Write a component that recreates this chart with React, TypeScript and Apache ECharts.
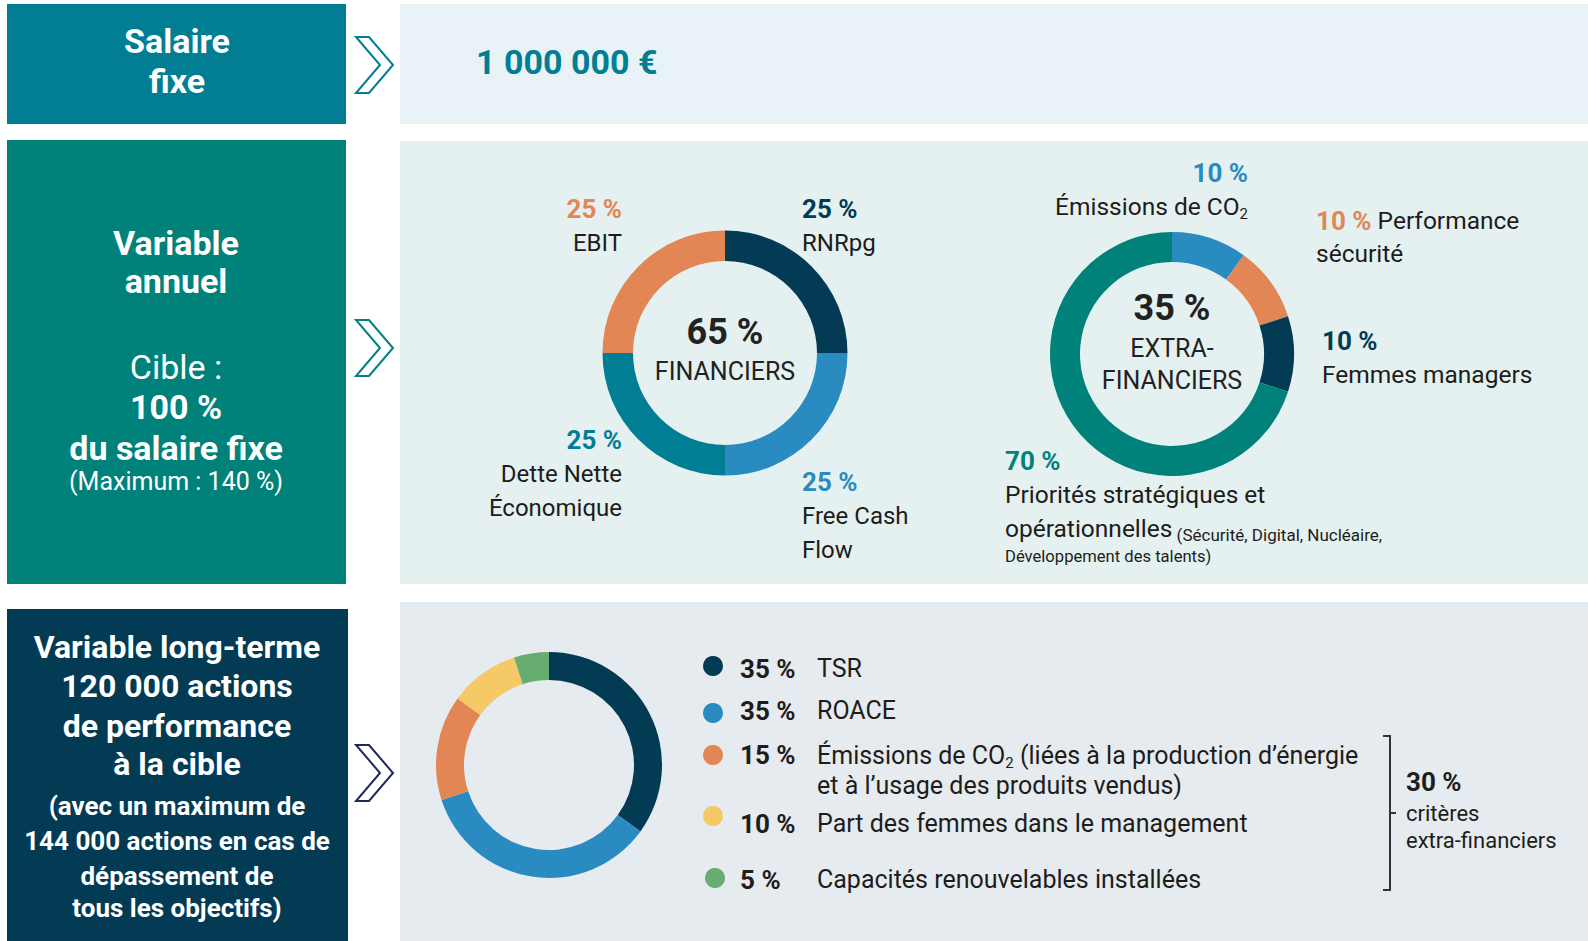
import React, { useEffect, useRef } from 'react';
import * as echarts from 'echarts';

const FONT = 'Roboto, "Liberation Sans", sans-serif';

// ---------- data ----------
const fixedSalary = '1 000 000 €';
const annualGroupNames = ['FINANCIERS', 'EXTRA-FINANCIERS'];
const annualGroupShares = [65, 35];
const annualTarget = 100;
const annualMaximum = 140;

const financialNames = ['RNRpg', 'Free Cash Flow', 'Dette Nette Économique', 'EBIT'];
const financialValues = [25, 25, 25, 25];

const extraNames = ['Émissions de CO2', 'Performance sécurité', 'Femmes managers', 'Priorités stratégiques et opérationnelles'];
const extraValues = [10, 10, 10, 70];

const longTermNames = [
  'TSR',
  'ROACE',
  'Émissions de CO2 (liées à la production d’énergie et à l’usage des produits vendus)',
  'Part des femmes dans le management',
  'Capacités renouvelables installées',
];
const longTermValues = [35, 35, 15, 10, 5];
const longTermExtraShare = 30;
const longTermTargetShares = '120 000';
const longTermMaxShares = '144 000';

// ---------- styles ----------
const COL = {
  navy: '#033B55',
  blue: '#298BBF',
  petrol: '#017E93',
  orange: '#E38656',
  teal: '#00827B',
  yellow: '#F4C966',
  green: '#66AD6F',
  text: '#1D1D1B',
  indigo: '#1F2A5C',
};
const financialColors = [COL.navy, COL.blue, COL.petrol, COL.orange];
const extraColors = [COL.blue, COL.orange, COL.navy, COL.teal];
const longTermColors = [COL.navy, COL.blue, COL.orange, COL.yellow, COL.green];

const pct = (v: number) => `${v}\u00a0%`;

type Opt = { weight?: string; color?: string; align?: string };
function T(text: string, x: number, baseline: number, size: number, o: Opt = {}) {
  const align = o.align || 'left';
  return {
    type: 'text',
    x,
    y: baseline - 0.342 * size,
    z: 10,
    silent: true,
    style: {
      text,
      fill: o.color || COL.text,
      fontFamily: FONT,
      fontSize: size,
      fontWeight: o.weight || 'normal',
      align,
      textAlign: align,
      verticalAlign: 'middle',
      textVerticalAlign: 'middle',
    },
  };
}
function R(text: string, x: number, centerY: number, rich: any, align = 'left') {
  return {
    type: 'text',
    x,
    y: centerY,
    z: 10,
    silent: true,
    style: {
      text,
      rich,
      fontFamily: FONT,
      fontSize: 24,
      align,
      textAlign: align,
      verticalAlign: 'middle',
      textVerticalAlign: 'middle',
    },
  };
}
const tok = (size: number, weight: string, color: string, lh = 30, extra: any = {}) => ({
  fontFamily: FONT,
  fontSize: size,
  fontWeight: weight,
  color,
  fill: color,
  lineHeight: lh,
  ...extra,
});
const subTok = (color: string) => tok(15, 'normal', color, 16, { verticalAlign: 'bottom' });
function fixCO(line: string, key: string) {
  // "Émissions de CO2 ..." -> "{n|Émissions de CO}{s|2}{n| ...}"
  const i = line.indexOf('CO2');
  if (i < 0) return `{${key}|${line}}`;
  const a = line.slice(0, i + 2);
  const b = line.slice(i + 3);
  return `{${key}|${a}}{s|2}` + (b ? `{${key}|${b}}` : '');
}

function chevron(x: number, yc: number, color: string) {
  return {
    type: 'polygon',
    silent: true,
    shape: {
      points: [
        [x, yc - 28],
        [x + 13, yc - 28],
        [x + 37, yc],
        [x + 13, yc + 28],
        [x, yc + 28],
        [x + 24, yc],
      ],
    },
    style: { fill: 'none', stroke: color, lineWidth: 2 },
  };
}

function buildOption() {
  const g: any[] = [];
  // panels
  g.push({ type: 'rect', silent: true, shape: { x: 7, y: 4, width: 339, height: 120 }, style: { fill: COL.petrol } });
  g.push({ type: 'rect', silent: true, shape: { x: 400, y: 4, width: 1188, height: 120 }, style: { fill: '#E9F2F7' } });
  g.push({ type: 'rect', silent: true, shape: { x: 7, y: 140, width: 339, height: 444 }, style: { fill: COL.teal } });
  g.push({ type: 'rect', silent: true, shape: { x: 400, y: 141, width: 1188, height: 443 }, style: { fill: '#E5F1F0' } });
  g.push({ type: 'rect', silent: true, shape: { x: 7, y: 609, width: 341, height: 332 }, style: { fill: COL.navy } });
  g.push({ type: 'rect', silent: true, shape: { x: 400, y: 602, width: 1188, height: 339 }, style: { fill: '#E6EBEF' } });
  g.push(chevron(356, 65, COL.petrol));
  g.push(chevron(356, 348, COL.teal));
  g.push(chevron(356, 773, COL.indigo));

  const W = '#FFFFFF';
  // row 1
  g.push(T('Salaire', 177, 53, 34, { weight: 'bold', color: W, align: 'center' }));
  g.push(T('fixe', 177, 93, 34, { weight: 'bold', color: W, align: 'center' }));
  g.push(T(fixedSalary, 476, 74, 34, { weight: 'bold', color: COL.petrol }));

  // row 2 box
  g.push(T('Variable', 176, 255, 34, { weight: 'bold', color: W, align: 'center' }));
  g.push(T('annuel', 176, 293, 34, { weight: 'bold', color: W, align: 'center' }));
  g.push(T('Cible :', 176, 379, 34, { color: W, align: 'center' }));
  g.push(T(pct(annualTarget), 176, 419, 34, { weight: 'bold', color: W, align: 'center' }));
  g.push(T('du salaire fixe', 176, 460, 34, { weight: 'bold', color: W, align: 'center' }));
  g.push(T(`(Maximum : ${pct(annualMaximum)})`, 176, 490, 25, { color: W, align: 'center' }));

  // row 3 box
  const lt1 = ['Variable long-terme', `${longTermTargetShares} actions`, 'de performance', 'à la cible'];
  const lt1B = [658, 697, 737, 775];
  lt1.forEach((s, i) => g.push(T(s, 177, lt1B[i], 32, { weight: 'bold', color: W, align: 'center' })));
  const lt2 = ['(avec un maximum de', `${longTermMaxShares} actions en cas de`, 'dépassement de', 'tous les objectifs)'];
  const lt2B = [815, 850, 885, 917];
  lt2.forEach((s, i) => g.push(T(s, 177, lt2B[i], 26, { weight: 'bold', color: W, align: 'center' })));

  // donut 1 labels
  const finLayout = [
    { x: 802, y: 217.5, align: 'left', lines: ['RNRpg'] },
    { x: 802, y: 491, align: 'left', lines: ['Free Cash', 'Flow'] },
    { x: 622, y: 449, align: 'right', lines: ['Dette Nette', 'Économique'] },
    { x: 622, y: 217.5, align: 'right', lines: ['EBIT'] },
  ];
  finLayout.forEach((L, i) => {
    g.push(T(pct(financialValues[i]), L.x, L.y, 26, { weight: 'bold', color: financialColors[i], align: L.align }));
    L.lines.forEach((s, k) => g.push(T(s, L.x, L.y + 33.5 * (k + 1), 24, { align: L.align })));
  });
  g.push(T(pct(annualGroupShares[0]), 725, 344, 36, { weight: 'bold', color: '#222', align: 'center' }));
  g.push(T(annualGroupNames[0], 725, 380, 25, { color: '#222', align: 'center' }));

  // donut 2 labels
  g.push(T(pct(extraValues[0]), 1248, 182, 26, { weight: 'bold', color: extraColors[0], align: 'right' }));
  g.push(
    R(fixCO(extraNames[0], 'n'), 1248, 215 - 8.2, { n: tok(24.5, 'normal', COL.text), s: subTok(COL.text) }, 'right')
  );
  g.push(
    R(
      `{p|${pct(extraValues[1])}}{n| Performance}`,
      1316,
      229 - 8.2,
      { p: tok(26, 'bold', extraColors[1]), n: tok(24.5, 'normal', COL.text) },
      'left'
    )
  );
  g.push(T('sécurité', 1316, 262, 24.5));
  g.push(T(pct(extraValues[2]), 1322, 350, 26, { weight: 'bold', color: extraColors[2] }));
  g.push(T(extraNames[2], 1322, 383, 24.5));
  g.push(T(pct(extraValues[3]), 1005, 470, 26, { weight: 'bold', color: extraColors[3] }));
  g.push(T('Priorités stratégiques et', 1005, 503, 24.5));
  g.push(
    R(
      '{n|opérationnelles}{m| (Sécurité, Digital, Nucléaire,}',
      1005,
      537 - 8.2,
      { n: tok(24.5, 'normal', COL.text), m: tok(17, 'normal', COL.text, 24, { verticalAlign: 'bottom' }) },
      'left'
    )
  );
  g.push(T('Développement des talents)', 1005, 562, 16.6));
  g.push(T(pct(annualGroupShares[1]), 1172, 320, 36, { weight: 'bold', color: '#222', align: 'center' }));
  g.push(T('EXTRA-', 1172, 357, 25, { color: '#222', align: 'center' }));
  g.push(T('FINANCIERS', 1172, 389, 25, { color: '#222', align: 'center' }));

  // bracket
  g.push({
    type: 'polyline',
    silent: true,
    shape: { points: [[1383, 736], [1390, 736], [1390, 890], [1383, 890]] },
    style: { stroke: '#333', lineWidth: 2, fill: 'none' },
  });
  g.push({ type: 'line', silent: true, shape: { x1: 1390, y1: 813, x2: 1396, y2: 813 }, style: { stroke: '#333', lineWidth: 2 } });
  g.push(T(pct(longTermExtraShare), 1406, 791, 26, { weight: 'bold' }));
  g.push(T('critères', 1406, 821, 22));
  g.push(T('extra-financiers', 1406, 848, 22));

  // legends for long-term donut
  const ltLines = [
    ['TSR'],
    ['ROACE'],
    ['Émissions de CO2 (liées à la production d’énergie', 'et à l’usage des produits vendus)'],
    ['Part des femmes dans le management'],
    ['Capacités renouvelables installées'],
  ];
  const ltIconY = [666, 713, 755, 816, 878];
  const ltIconX = [703, 703, 703, 703, 705];
  const ltShift = [2.5, -2.5, 0, 7.5, 1.5];
  const legends = longTermNames.map((name, i) => {
    const lines = ltLines[i];
    let pt = Math.max(0, 2 * ltShift[i]);
    const pb = Math.max(0, -2 * ltShift[i]);
    if (lines.length > 1) pt = 30 * (lines.length - 1);
    const H = 30 * lines.length + pt + pb;
    const top = ltIconY[i] - Math.max(10, H / 2);
    const gap = 12 - (ltIconX[i] - 703);
    const text = lines
      .map((ln, k) => (k === 0 ? `{g| }{p|${pct(longTermValues[i])}}` : `{g| }{p| }`) + fixCO(ln, 'l'))
      .join('\n');
    return {
      show: true,
      data: [name],
      left: ltIconX[i],
      top,
      padding: 0,
      icon: 'circle',
      itemWidth: 20,
      itemHeight: 20,
      selectedMode: false,
      formatter: () => text,
      textStyle: {
        fontFamily: FONT,
        fontSize: 25,
        color: COL.text,
        lineHeight: 30,
        padding: [pt, 0, pb, 0],
        rich: {
          g: tok(25, 'normal', COL.text, 30, { width: gap }),
          p: tok(26, 'bold', COL.text, 30, { width: 77 }),
          l: tok(25, 'normal', COL.text, 30),
          s: subTok(COL.text),
        },
      },
    };
  });

  const pieBase = {
    type: 'pie',
    startAngle: 90,
    clockwise: true,
    silent: true,
    label: { show: false },
    labelLine: { show: false },
    emphasis: { disabled: true },
    itemStyle: { borderWidth: 0 },
  };

  return {
    animation: false,
    textStyle: { fontFamily: FONT },
    legend: legends,
    graphic: { elements: g },
    series: [
      {
        ...pieBase,
        name: 'Financiers',
        center: [725, 353],
        radius: [92, 122.5],
        data: financialNames.map((n, i) => ({ name: n, value: financialValues[i], itemStyle: { color: financialColors[i] } })),
      },
      {
        ...pieBase,
        name: 'Extra-financiers',
        center: [1172, 354],
        radius: [92, 122],
        data: extraNames.map((n, i) => ({ name: n, value: extraValues[i], itemStyle: { color: extraColors[i] } })),
      },
      {
        ...pieBase,
        name: 'Long terme',
        center: [549, 765],
        radius: [85, 113],
        data: longTermNames.map((n, i) => ({ name: n, value: longTermValues[i], itemStyle: { color: longTermColors[i] } })),
      },
    ],
  };
}

export default function App() {
  const ref = useRef<HTMLDivElement>(null);
  useEffect(() => {
    if (!ref.current) return;
    const chart = echarts.init(ref.current, undefined, { renderer: 'svg' });
    chart.setOption(buildOption() as any);
    return () => chart.dispose();
  }, []);
  return (
    <div
      ref={ref}
      style={{ position: 'fixed', left: 0, top: 0, width: 1588, height: 941, background: '#FFFFFF' }}
    />
  );
}
